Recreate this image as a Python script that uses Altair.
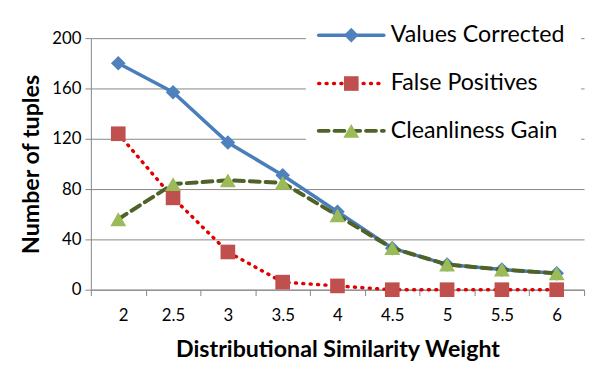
import altair as alt
import pandas as pd

weights = [2, 2.5, 3, 3.5, 4, 4.5, 5, 5.5, 6]
values_corrected = [180, 157, 117, 91, 62, 33, 20, 16, 13]
false_positives = [124, 73, 30, 6, 3, 0, 0, 0, 0]
cleanliness_gain = [56, 84, 87, 85, 59, 33, 20, 16, 13]
series_names = ["Values Corrected", "False Positives", "Cleanliness Gain"]
tick_bounds = [1.75, 2.25, 2.75, 3.25, 3.75, 4.25, 4.75, 5.25, 5.75, 6.25]
y_ticks = [0, 40, 80, 120, 160, 200]

FONT = "Lato"
W, H = 500, 255

df = pd.DataFrame({
    "w": weights,
    "vc": values_corrected,
    "fp": false_positives,
    "cg": cleanliness_gain,
})

xscale = alt.Scale(domain=[1.75, 6.25], nice=False, zero=False)
yscale = alt.Scale(domain=[0, 200], nice=False)

xaxis = alt.Axis(
    values=tick_bounds,
    labelExpr="datum.value < 6 ? '' + (datum.value + 0.25) : ''",
    labelOffset=W / 18,
    grid=False,
    tickSize=6,
    tickColor="#868686",
    domainColor="#868686",
    labelPadding=12,
    labelFontSize=17,
    labelFont=FONT,
    labelColor="#000000",
    title="Distributional Similarity Weight",
    titleFont=FONT,
    titleFontSize=23.5,
    titleFontWeight="bold",
    titlePadding=15,
    titleColor="#000000",
)
yaxis = alt.Axis(
    values=y_ticks,
    grid=True,
    gridColor="#868686",
    tickSize=6,
    tickColor="#868686",
    domainColor="#868686",
    labelPadding=4,
    labelFontSize=17,
    labelFont=FONT,
    labelColor="#000000",
    title="Number of tuples",
    titleFont=FONT,
    titleFontSize=23.5,
    titleFontWeight="bold",
    titlePadding=9,
    titleColor="#000000",
)

base = alt.Chart(df)

styles = [
    ("vc", "#4A7EBB", [], 3.5, "diamond", "#4F81BD", 220),
    ("fp", "#E00000", [1, 6.5], 3.5, "square", "#C0504D", 220),
    ("cg", "#4F6228", [10, 6], 4, "triangle-up", "#9BBB59", 260),
]

layers = []
for i, (field, lcol, dash, lw, shape, mcol, msize) in enumerate(styles):
    x = alt.X("w:Q", scale=xscale, axis=xaxis)
    y = alt.Y(f"{field}:Q", scale=yscale, axis=yaxis)
    lm = dict(color=lcol, strokeWidth=lw, strokeCap="round")
    if dash:
        lm["strokeDash"] = dash
    layers.append(base.mark_line(**lm).encode(x=x, y=y))
    layers.append(base.mark_point(shape=shape, filled=True, size=msize, color=mcol, opacity=1).encode(x=x, y=y))

# legend box
one = alt.Data(values=[{"a": 1}])
layers.append(alt.Chart(one).mark_rect(color="white").encode(
    x=alt.value(218), x2=alt.value(497), y=alt.value(-26), y2=alt.value(120)))
leg_y = [-3, 46, 94]
for (field, lcol, dash, lw, shape, mcol, msize), name, ly in zip(styles, series_names, leg_y):
    rm = dict(color=lcol, strokeWidth=lw, strokeCap="round")
    if dash:
        rm["strokeDash"] = dash
    layers.append(alt.Chart(one).mark_rule(**rm).encode(
        x=alt.value(231), x2=alt.value(297), y=alt.value(ly)))
    layers.append(alt.Chart(one).mark_point(shape=shape, filled=True, size=msize, color=mcol, opacity=1).encode(
        x=alt.value(264), y=alt.value(ly)))
    layers.append(alt.Chart(one).mark_text(text=name, align="left", baseline="middle",
                                           font=FONT, fontSize=23.5, color="#000000").encode(
        x=alt.value(304), y=alt.value(ly)))

chart = alt.layer(*layers).properties(
    width=W, height=H,
    autosize=alt.AutoSizeParams(type="none"),
    padding={"left": 84, "top": 28, "right": 6, "bottom": 90},
).configure_view(stroke=None)

chart.save("out.html", embed_options={"renderer": "svg", "actions": False})
